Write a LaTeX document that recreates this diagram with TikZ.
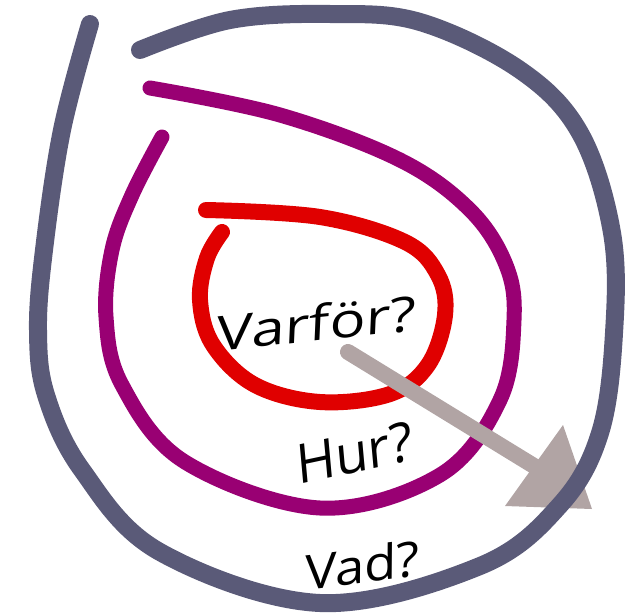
\documentclass[tikz,border=0pt]{standalone}
\usepackage{fontspec}
\newfontfamily\handfont[FakeSlant=0.12]{Open Sans}
\definecolor{ringgray}{HTML}{5A5A78}
\definecolor{ringpurple}{HTML}{990073}
\definecolor{ringred}{HTML}{E00000}
\definecolor{arrowgray}{HTML}{B1A4A4}
\tikzset{
  ring/.style={line width=#1, line cap=round, line join=round},
  label/.style={inner sep=0pt, anchor=base, font=\handfont\fontsize{48}{56}\selectfont},
}
\begin{document}
\begin{tikzpicture}[x=1pt, y=-1pt]
\useasboundingbox (0,0) rectangle (628,613);
% red (inner) ring
\draw[ring=16pt, ringred] plot[smooth, tension=0.6] coordinates {
  (206,210) (320,217) (405,242) (438,275) (445,315) (428,365) (390,394)
  (320,402) (255,385) (213,345) (200,300) (207,258) (222,232)};
% purple (middle) ring
\draw[ring=15pt, ringpurple] plot[smooth, tension=0.6] coordinates {
  (150,88) (280,115) (400,160) (470,210) (506,265) (514,320) (500,400)
  (440,475) (320,508) (185,462) (122,385) (106,317) (112,250) (132,195) (162,137)};
% arrow
\coordinate (astart) at (348,352);
\coordinate (abase) at (534,466);
\coordinate (aA) at (563,425);
\coordinate (aB) at (505,506);
\coordinate (aC) at (592,509);
\draw[line width=16pt, line cap=round, arrowgray] (astart) -- (abase);
\fill[arrowgray] (aA) -- (aB) -- (aC) -- cycle;
% gray (outer) ring
\draw[ring=18pt, ringgray] plot[smooth, tension=0.6] coordinates {
  (90,24) (62,130) (44,250) (38,330) (46,395) (82,470) (160,552) (320,603)
  (480,566) (560,505) (600,433) (614,333) (612,233) (580,133) (520,70)
  (420,22) (330,14) (230,20) (140,50)};
% labels
\node[label, rotate=6, xscale=1.25] (why) at (316,341) {Varför?};
\node[label, rotate=12, xscale=1.0, font=\handfont\fontsize{54}{60}\selectfont] (how) at (356,472) {Hur?};
\node[label, rotate=7, xscale=1.1] (what) at (362,583) {Vad?};
\end{tikzpicture}
\end{document}
